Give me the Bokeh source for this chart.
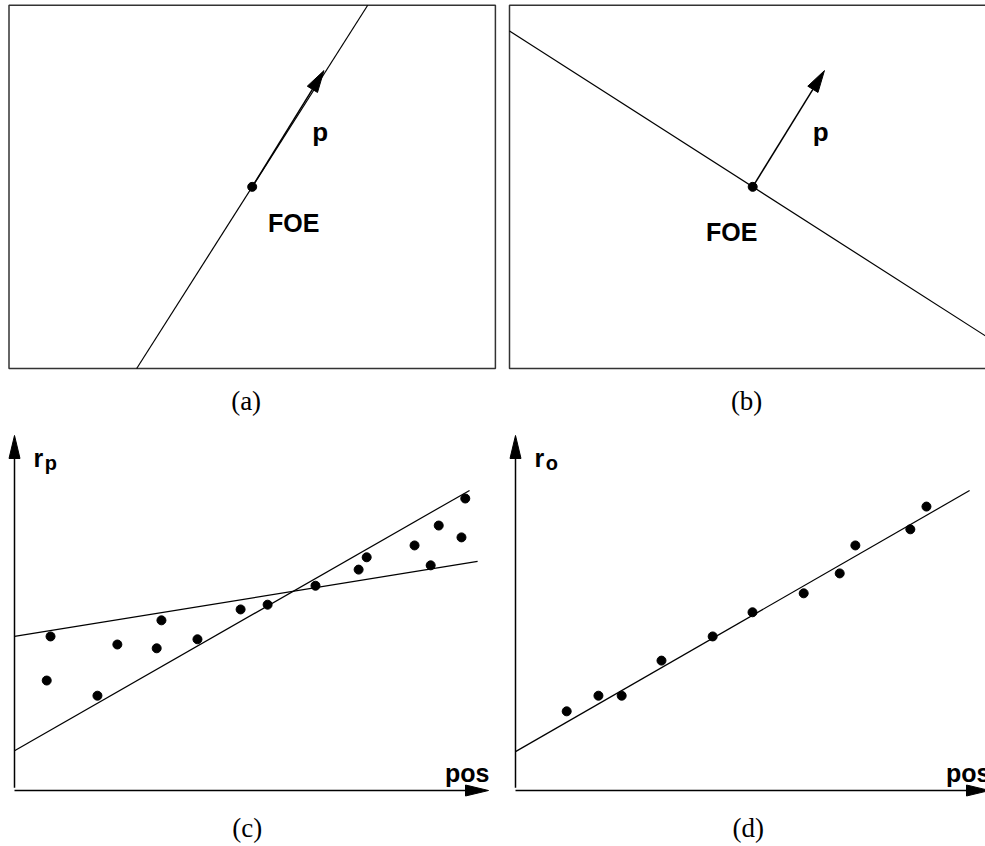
import math
from bokeh.plotting import figure
from bokeh.models import Range1d, Label
from bokeh.layouts import column, row
from bokeh.embed import file_html
from bokeh.resources import INLINE

# ---- image-plane panels (a) and (b): a 4 x 3 image with the FOE in its centre
IMG_W, IMG_H = 4.0, 3.0
FOE = [2.0, 1.5]
P_VEC = [0.59, 0.96]                      # direction p drawn from the FOE
LINE_A_U = [1.05, 2.95]                   # line parallel to p
LINE_A_V = [0.0, 3.0]
LINE_B_U = [0.0, 4.0]                     # line perpendicular to p
LINE_B_V = [2.786, 0.214]

# ---- residual plots (c) and (d)
C_POS = [0.76, 0.68, 1.75, 2.17, 3.10, 3.00, 3.86, 4.77, 5.34, 6.35, 7.26,
         7.43, 8.44, 8.78, 8.95, 9.43, 9.51]
C_R = [3.25, 2.32, 2.00, 3.08, 3.59, 3.00, 3.19, 3.82, 3.92, 4.32, 4.66,
       4.92, 5.17, 4.75, 5.59, 5.34, 6.16]
C_FIT_INTERCEPT = [3.25, 0.84]
C_FIT_SLOPE = [0.162, 0.572]
C_FIT_END = [9.77, 9.60]

D_POS = [1.08, 1.75, 2.24, 3.08, 4.16, 5.00, 6.08, 6.84, 7.17, 8.33, 8.67]
D_R = [1.67, 2.00, 2.00, 2.74, 3.25, 3.76, 4.16, 4.58, 5.17, 5.51, 5.99]
D_FIT_INTERCEPT = [0.82]
D_FIT_SLOPE = [0.575]
D_FIT_END = [9.58]

AXIS_POS_END = 10.0
AXIS_R_END = 7.49

CAPTIONS = ["(a)", "(b)", "(c)", "(d)"]

SANS = "Liberation Sans"
SERIF = "Liberation Serif"


def make_fig(w, h, ox, oy, sx, sy):
    """Figure whose frame fills the canvas; data (0,0) sits at pixel (ox, oy from top)."""
    p = figure(width=w, height=h, output_backend="svg", toolbar_location=None,
               x_axis_location=None, y_axis_location=None, min_border=0,
               x_range=Range1d(-ox / sx, (w - ox) / sx),
               y_range=Range1d(-(h - oy) / sy, oy / sy))
    p.grid.visible = False
    p.outline_line_color = None
    p.background_fill_color = "white"
    p.border_fill_color = "white"
    return p


def arrow(p, tail, tip, sx, sy, head_len=20, head_w=12, lw=1.5):
    dx = (tip[0] - tail[0]) * sx
    dy = (tip[1] - tail[1]) * sy
    n = math.hypot(dx, dy)
    ux, uy = dx / n, dy / n
    bx = tip[0] - ux * head_len / sx
    by = tip[1] - uy * head_len / sy
    px, py = -uy * head_w / 2, ux * head_w / 2
    p.line([tail[0], bx], [tail[1], by], line_color="black", line_width=lw)
    p.patch([tip[0], bx + px / sx, bx - px / sx], [tip[1], by + py / sy, by - py / sy],
            fill_color="black", line_color="black", line_width=1)


def text(p, x, y, t, size, font=SANS, style="bold", align="center", baseline="alphabetic"):
    p.add_layout(Label(x=x, y=y, text=t, text_font=font, text_font_size=size,
                       text_font_style=style, text_align=align, text_baseline=baseline,
                       text_color="black"))


# image-plane panels
SX, SY = 121.6, 121.1


def image_panel(w, ox, lu, lv, foe_lbl, cap):
    p = make_fig(w, 420, ox, 368, SX, SY)
    p.quad(left=0, right=IMG_W, bottom=0, top=IMG_H, fill_color=None,
           line_color="#333333", line_width=1.5)
    p.line(lu, lv, line_color="black", line_width=1.2)
    tip = [FOE[0] + P_VEC[0], FOE[1] + P_VEC[1]]
    arrow(p, FOE, tip, SX, SY, head_len=22, head_w=12, lw=1.5)
    p.scatter([FOE[0]], [FOE[1]], size=9, color="black")
    text(p, tip[0] - 0.03, 1.95, "p", "26px")
    text(p, foe_lbl[0], foe_lbl[1], "FOE", "25px")
    text(p, 1.95, -0.27, cap, "27px", font=SERIF, style="normal", baseline="middle")
    return p


pa = image_panel(500, 8.5, LINE_A_U, LINE_A_V, [2.342, 1.205], CAPTIONS[0])
pb = image_panel(485, 9.0, LINE_B_U, LINE_B_V, [1.827, 1.13], CAPTIONS[1])

# residual panels
S = 47.4


def residual_panel(w, ox, xs, ys, icpts, slopes, ends, sub, cap):
    p = make_fig(w, 426, ox, 370, S, S)
    # axes with arrowheads
    arrow(p, [0, 0.06], [0, AXIS_R_END], S, S, head_len=23, head_w=11, lw=1.5)
    arrow(p, [0, 0], [AXIS_POS_END, 0], S, S, head_len=23, head_w=11, lw=1.5)
    for a, b, e in zip(icpts, slopes, ends):
        p.line([0, e], [a, a + b * e], line_color="black", line_width=1.2)
    p.scatter(xs, ys, size=9, color="black")
    text(p, 0.40, 7.025, "r", "25px", align="left")
    text(p, 0.64, 6.90, sub, "20px", align="left")
    text(p, AXIS_POS_END + 0.02, 0.36, "pos", "25px", align="right")
    text(p, 4.91, -0.80, cap, "27px", font=SERIF, style="normal", baseline="middle")
    return p


pc = residual_panel(500, 14, C_POS, C_R, C_FIT_INTERCEPT, C_FIT_SLOPE, C_FIT_END, "p", CAPTIONS[2])
pd = residual_panel(485, 15, D_POS, D_R, D_FIT_INTERCEPT, D_FIT_SLOPE, D_FIT_END, "o", CAPTIONS[3])

layout = column(row(pa, pb, spacing=0), row(pc, pd, spacing=0), spacing=0)

open("out.html", "w").write(file_html(layout, INLINE))
